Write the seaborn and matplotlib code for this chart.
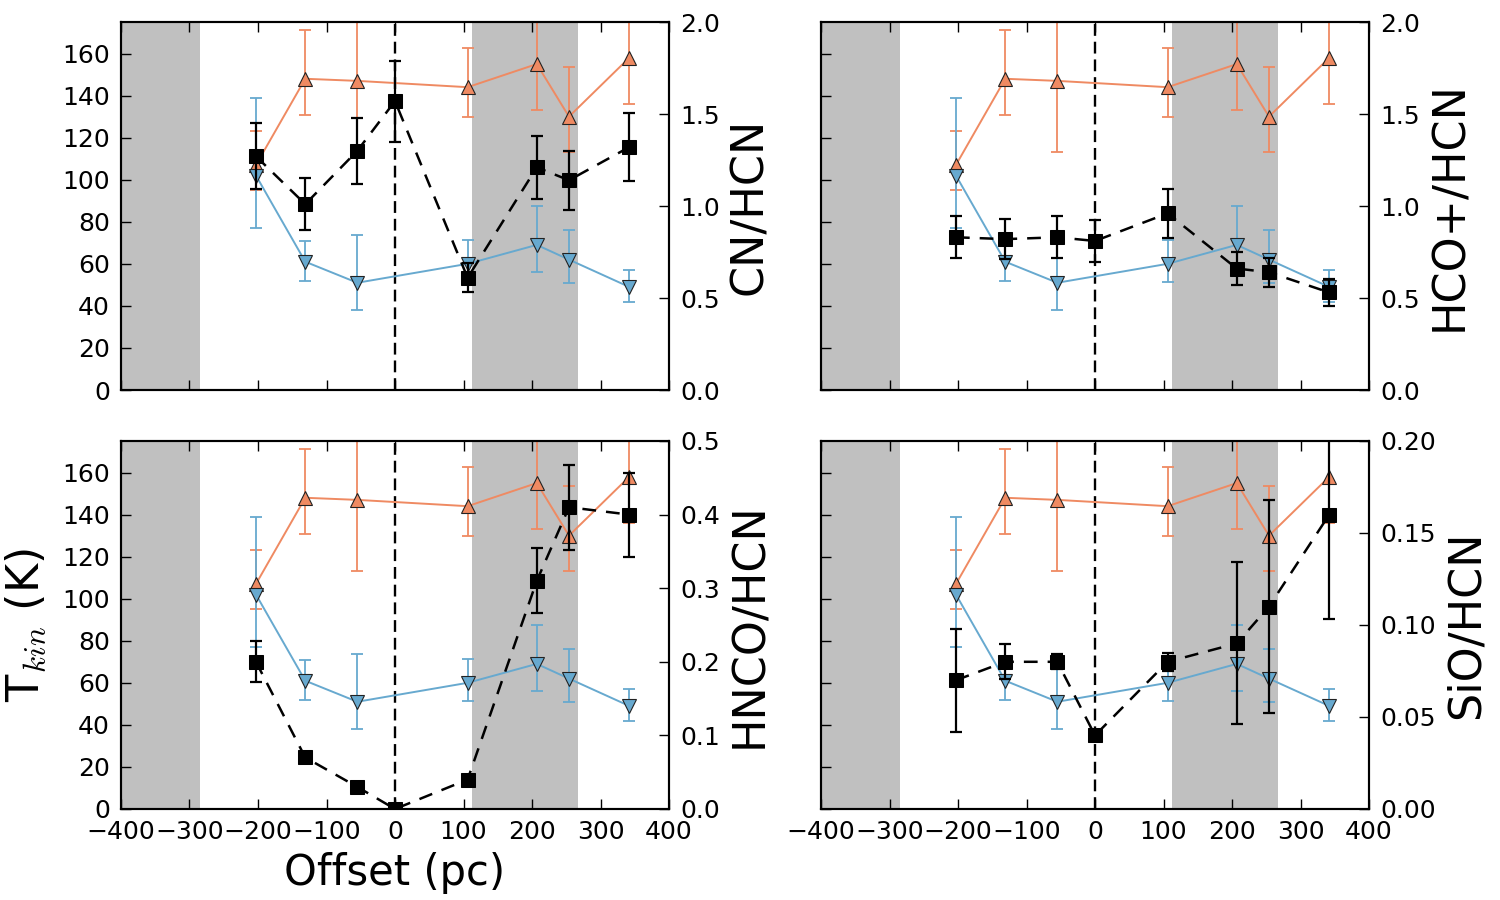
import matplotlib
matplotlib.use("Agg")
import matplotlib.pyplot as plt
import seaborn as sns

# ---------------- data ----------------
offset_t = [-203, -131, -55, 106, 207, 254, 342]
tkin_hi = [107, 148, 147, 144, 155, 130, 158]
tkin_hi_err_lo = [12, 17, 34, 14.3, 22, 17, 22]
tkin_hi_err_up = [16, 23, 38, 18.6, 25, 23.4, 25]
tkin_lo = [102, 61, 51, 60, 69, 62, 49]
tkin_lo_err_lo = [25, 9, 13, 8.7, 13, 11, 7]
tkin_lo_err_up = [37, 10, 22.5, 11.5, 18.7, 14, 8]

offset_r = [-203, -131, -55, 0, 106, 207, 254, 342]
cn_hcn = [1.27, 1.01, 1.30, 1.57, 0.61, 1.21, 1.14, 1.32]
cn_hcn_err = [0.18, 0.14, 0.18, 0.22, 0.08, 0.17, 0.16, 0.185]
hco_hcn = [0.83, 0.82, 0.83, 0.81, 0.96, 0.66, 0.64, 0.53]
hco_hcn_err = [0.115, 0.11, 0.115, 0.115, 0.135, 0.09, 0.08, 0.075]
hnco_hcn = [0.20, 0.07, 0.03, 0.0, 0.04, 0.31, 0.41, 0.40]
hnco_hcn_err = [0.028, 0.004, 0.003, 0.0, 0.002, 0.044, 0.058, 0.057]
sio_hcn = [0.070, 0.080, 0.080, 0.040, 0.080, 0.090, 0.110, 0.160]
sio_hcn_err = [0.028, 0.0095, 0.004, 0.0, 0.005, 0.044, 0.058, 0.057]

ratio_labels = ["CN/HCN", "HCO+/HCN", "HNCO/HCN", "SiO/HCN"]
ratio_limits = [2.0, 2.0, 0.5, 0.2]
ratio_steps = [0.5, 0.5, 0.1, 0.05]
ratio_fmt = ["%.1f", "%.1f", "%.1f", "%.2f"]

bands = [(-400, -285), (112, 267)]

# ---------------- style ----------------
sns.set_theme(style="ticks", rc={
    "xtick.direction": "in", "ytick.direction": "in",
    "axes.linewidth": 1.5, "axes.edgecolor": "black",
    "xtick.major.size": 7, "ytick.major.size": 7,
    "xtick.major.width": 1.0, "ytick.major.width": 1.0,
    "xtick.color": "black", "ytick.color": "black",
    "text.color": "black", "axes.labelcolor": "black",
    "mathtext.fontset": "cm",
})
plt.rcParams["font.family"] = ["DejaVu Sans"]

ORANGE = "#ef8a62"
BLUE = "#67a9cf"
GREY = "#c0c0c0"

fig = plt.figure(figsize=(15, 9), dpi=100)
W = 548 / 1500
H = 368 / 900
lefts = [121 / 1500, 821 / 1500]
bottoms = [1 - 390 / 900, 1 - 809 / 900]

ratio_data = [(cn_hcn, cn_hcn_err), (hco_hcn, hco_hcn_err),
              (hnco_hcn, hnco_hcn_err), (sio_hcn, sio_hcn_err)]

for i in range(4):
    row, col = divmod(i, 2)
    ax = fig.add_axes([lefts[col], bottoms[row], W, H])
    for (a, b) in bands:
        ax.axvspan(a, b, color=GREY, lw=0, zorder=0)
    ax.axvline(0, color="black", lw=1.7, ls=(0, (5, 2.5)), zorder=1)

    ax.errorbar(offset_t, tkin_hi, yerr=[tkin_hi_err_lo, tkin_hi_err_up],
                fmt="none", ecolor=ORANGE, elinewidth=1.3, capsize=4,
                capthick=1.3, zorder=2)
    ax.errorbar(offset_t, tkin_lo, yerr=[tkin_lo_err_lo, tkin_lo_err_up],
                fmt="none", ecolor=BLUE, elinewidth=1.3, capsize=4,
                capthick=1.3, zorder=2)
    sns.lineplot(x=offset_t, y=tkin_hi, ax=ax, color=ORANGE, marker="^",
                 markersize=10, markeredgecolor="#222222", markeredgewidth=0.8,
                 linewidth=1.4, sort=False, errorbar=None, zorder=3)
    sns.lineplot(x=offset_t, y=tkin_lo, ax=ax, color=BLUE, marker="v",
                 markersize=10, markeredgecolor="#222222", markeredgewidth=0.8,
                 linewidth=1.4, sort=False, errorbar=None, zorder=3)

    ax.set_xlim(-400, 400)
    ax.set_ylim(0, 175)
    ax.set_xticks(range(-400, 401, 100))
    ax.set_yticks(range(0, 161, 20))
    ax.tick_params(axis="both", labelsize=18, pad=8, top=True)
    ax.set_xlabel("")
    ax.set_ylabel("")
    if row == 0:
        ax.tick_params(labelbottom=False)
    if col == 1:
        ax.tick_params(labelleft=False)
    if row == 1 and col == 0:
        ax.set_xlabel("Offset (pc)", fontsize=30, labelpad=6)
        ax.set_ylabel(r"T$_{kin}$ (K)", fontsize=32, labelpad=10)

    vals, errs = ratio_data[i]
    ax2 = ax.twinx()
    ax2.errorbar(offset_r, vals, yerr=errs, fmt="none", ecolor="black",
                 elinewidth=1.6, capsize=4.5, capthick=1.6, zorder=2)
    sns.lineplot(x=offset_r, y=vals, ax=ax2, color="black", marker="s",
                 markersize=9.5, markeredgecolor="black", linewidth=1.8,
                 linestyle=(0, (5.5, 4)), sort=False, errorbar=None, zorder=3)
    top = ratio_limits[i]
    step = ratio_steps[i]
    n = int(round(top / step))
    ax2.set_ylim(0, top)
    ax2.set_yticks([k * step for k in range(n + 1)])
    ax2.set_yticklabels([ratio_fmt[i] % (k * step) for k in range(n + 1)])
    ax2.tick_params(axis="y", labelsize=18, pad=8)
    ax2.set_xlabel("")
    ax2.set_ylabel(ratio_labels[i], fontsize=32, labelpad=6)
    ax2.set_xlim(-400, 400)

fig.savefig("out.png", dpi=100)
